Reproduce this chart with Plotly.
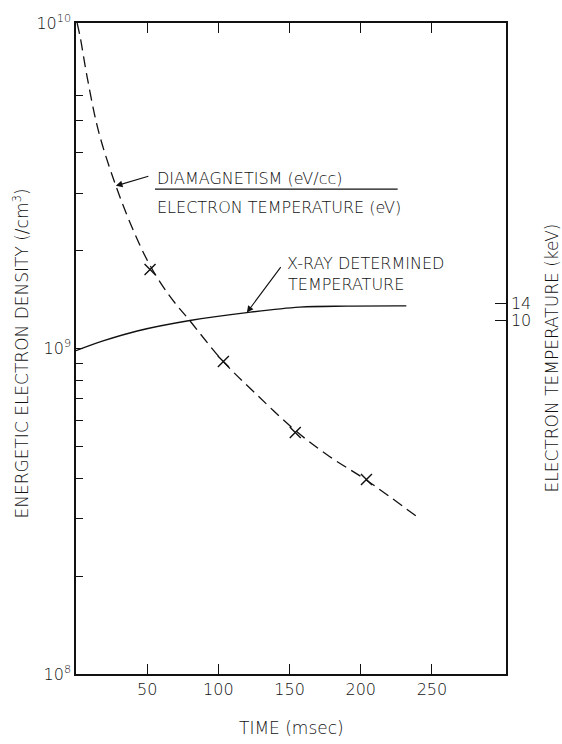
import math
import plotly.graph_objects as go

# ---- data ----
# dashed curve: diamagnetism / electron temperature  (energetic electron density, /cm^3)
DIA_T = [0.8, 3, 8, 16, 28, 40, 52, 66, 80, 103, 126, 154, 178, 204, 240]
DIA_N = [1.00e10, 9.02e9, 6.76e9, 4.62e9, 3.16e9, 2.32e9, 1.80e9, 1.445e9,
         1.216e9, 0.916e9, 0.728e9, 0.560e9, 0.466e9, 0.394e9, 0.303e9]

# measured points (crosses)
CROSS_T = [52, 103.5, 154, 204]
CROSS_N = [1.75e9, 0.912e9, 0.552e9, 0.396e9]

# solid curve: X-ray determined temperature (drawn on the density scale)
XR_T = [0, 19, 43, 80, 120, 157, 190, 232]
XR_N = [0.985e9, 1.055e9, 1.132e9, 1.219e9, 1.289e9, 1.340e9, 1.350e9, 1.352e9]

# axis ticks
X_TICKS = [50, 100, 150, 200, 250]
Y_MAJOR = [1e8, 1e9, 1e10]
Y_MAJOR_TEXT = ["10<sup>8</sup>", "10<sup>9</sup>", "10<sup>10</sup>"]
Y_MINOR = [2e8, 3e8, 4e8, 5e8, 6e8, 7e8, 8e8, 9e8, 2e9, 3e9, 4e9, 5e9, 6e9]
KEV_LABELS = ["14", "10"]
KEV_POS = [1.375e9, 1.216e9]

FONT = "DejaVu Sans"
BLACK = "#111111"

fig = go.Figure()

fig.add_trace(go.Scatter(
    x=DIA_T, y=DIA_N, mode="lines", line_shape="spline",
    line=dict(color=BLACK, width=1.3, dash="11px,6px"), showlegend=False))

fig.add_trace(go.Scatter(
    x=CROSS_T, y=CROSS_N, mode="markers",
    marker=dict(symbol="x-thin", size=11, line=dict(color=BLACK, width=1.4)),
    showlegend=False))

fig.add_trace(go.Scatter(
    x=XR_T, y=XR_N, mode="lines", line_shape="spline", yaxis="y2",
    line=dict(color=BLACK, width=1.4), showlegend=False))

tickfont = dict(family=FONT, size=16, color=BLACK, weight=200)

fig.update_layout(
    width=562, height=744,
    margin=dict(l=76, r=56, t=16, b=70),
    paper_bgcolor="white", plot_bgcolor="white",
    font=dict(family=FONT, size=16, color=BLACK, weight=200),
    xaxis=dict(
        range=[0, 302], tickvals=X_TICKS, ticktext=[str(v) for v in X_TICKS],
        ticks="inside", ticklen=10, tickwidth=1.2, tickcolor=BLACK,
        showline=True, linecolor=BLACK, linewidth=1.5, mirror="ticks",
        showgrid=False, zeroline=False, tickfont=tickfont,
    ),
    yaxis=dict(
        type="log", range=[8, 10], tickvals=Y_MAJOR, ticktext=Y_MAJOR_TEXT,
        ticks="inside", ticklen=7, tickwidth=1.2, tickcolor=BLACK,
        minor=dict(tickvals=Y_MINOR, ticks="inside", ticklen=7,
                   tickwidth=1.2, tickcolor=BLACK, showgrid=False),
        showline=True, linecolor=BLACK, linewidth=1.5, mirror=True,
        showgrid=False, zeroline=False, tickfont=tickfont,
    ),
    yaxis2=dict(
        type="log", range=[8, 10], overlaying="y", side="right",
        tickvals=KEV_POS, ticktext=KEV_LABELS,
        ticks="inside", ticklen=11, tickwidth=1.2, tickcolor=BLACK,
        showline=True, linecolor=BLACK, linewidth=1.5,
        showgrid=False, zeroline=False, tickfont=tickfont,
    ),
)

tfont = dict(family=FONT, size=16, color=BLACK, weight=200)
afont = dict(family=FONT, size=17, color=BLACK, weight=200)

# axis titles
fig.add_annotation(text="ENERGETIC ELECTRON DENSITY (/cm<sup>3</sup>)", textangle=-90,
                   xref="paper", yref="paper", x=0, y=0.4924, xshift=-55,
                   xanchor="center", yanchor="middle", showarrow=False, font=afont)
fig.add_annotation(text="ELECTRON TEMPERATURE (keV)", textangle=-90,
                   xref="paper", yref="paper", x=1, y=0.4848, xshift=46,
                   xanchor="center", yanchor="middle", showarrow=False, font=afont)
fig.add_annotation(text="TIME (msec)", xref="paper", yref="paper", x=0.5, y=0,
                   yshift=-54, xanchor="center", yanchor="middle",
                   showarrow=False, font=afont)

# curve labels
fig.add_annotation(text="DIAMAGNETISM (eV/cc)", xref="paper", yref="paper",
                   x=0.1837, y=0.7614, xanchor="left", yanchor="middle",
                   showarrow=False, font=tfont)
fig.add_annotation(text="ELECTRON TEMPERATURE (eV)", xref="paper", yref="paper",
                   x=0.1837, y=0.7173, xanchor="left", yanchor="middle",
                   showarrow=False, font=tfont)
fig.add_shape(type="line", xref="paper", yref="paper",
              x0=0.1837, x1=0.748, y0=0.7447, y1=0.7447,
              line=dict(color=BLACK, width=1.3))
fig.add_annotation(text="X-RAY DETERMINED", xref="paper", yref="paper",
                   x=0.486, y=0.6307, xanchor="left", yanchor="middle",
                   showarrow=False, font=tfont)
fig.add_annotation(text="TEMPERATURE", xref="paper", yref="paper",
                   x=0.4884, y=0.5988, xanchor="left", yanchor="middle",
                   showarrow=False, font=tfont)

# arrows pointing at the curves
fig.add_annotation(text="", x=DIA_T[4], y=math.log10(DIA_N[4]), xref="x", yref="y",
                   showarrow=True, ax=34, ay=-10, arrowhead=2, arrowsize=1.2,
                   arrowwidth=1.1, arrowcolor=BLACK)
fig.add_annotation(text="", x=XR_T[4], y=math.log10(XR_N[4]), xref="x", yref="y",
                   showarrow=True, ax=35, ay=-47, arrowhead=2, arrowsize=1.2,
                   arrowwidth=1.1, arrowcolor=BLACK)

fig.write_html(
    "out.html",
    config={"displayModeBar": False},
    post_script="document.body.style.margin='0';document.body.style.overflow='hidden';",
)
